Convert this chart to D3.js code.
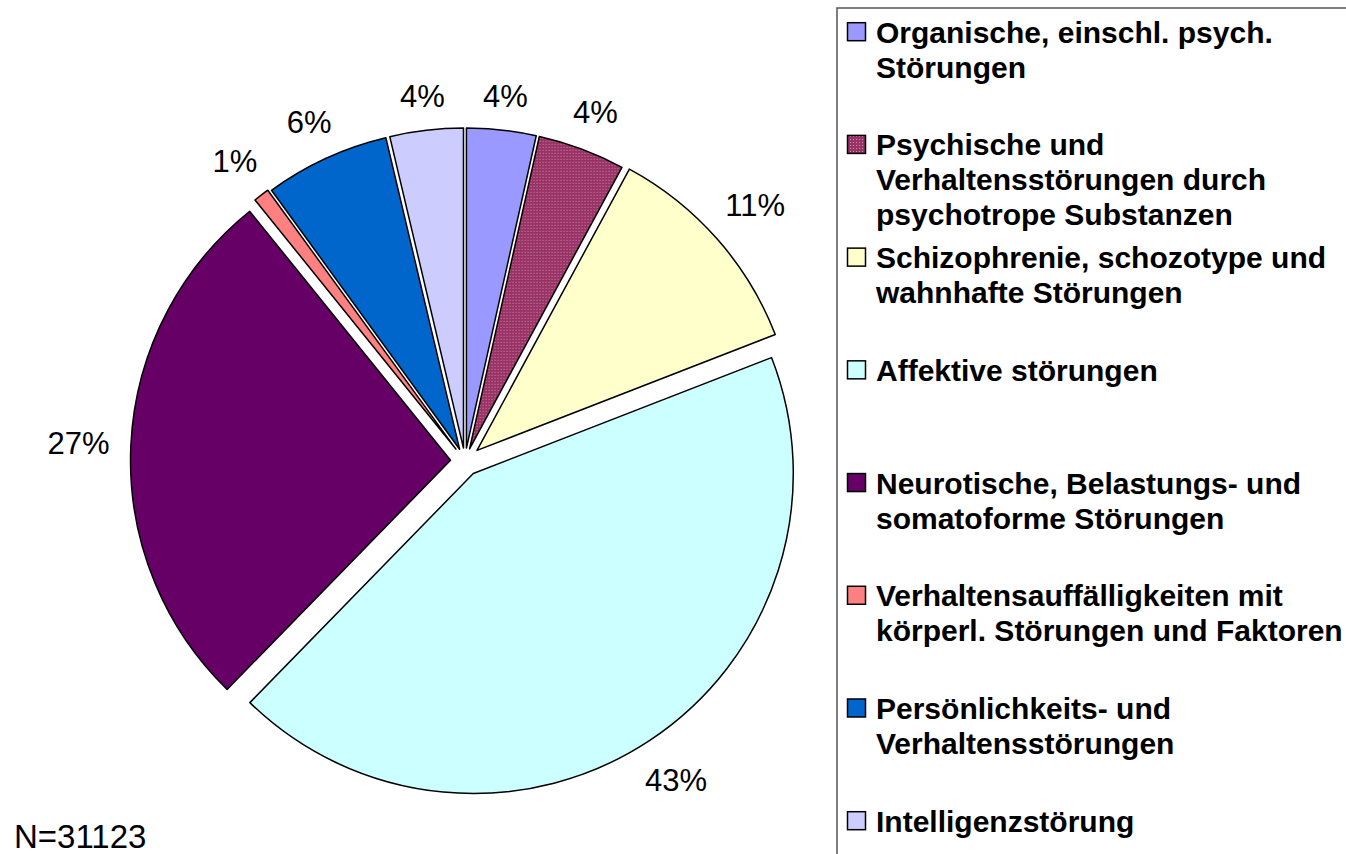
<!DOCTYPE html>
<html>
<head>
<meta charset="utf-8">
<script src="https://cdn.jsdelivr.net/npm/d3@7"></script>
<style>
  html, body { margin: 0; padding: 0; background: #fff; }
  svg { display: block; }
  text { font-family: "Liberation Sans", Arial, Helvetica, sans-serif; }
</style>
</head>
<body>
<svg id="chart" width="1346" height="854"></svg>
<script>
// ---- data ----
const categoryLines = [
  ["Organische, einschl. psych.", "Störungen"],
  ["Psychische und", "Verhaltensstörungen durch", "psychotrope Substanzen"],
  ["Schizophrenie, schozotype und", "wahnhafte Störungen"],
  ["Affektive störungen"],
  ["Neurotische, Belastungs- und", "somatoforme Störungen"],
  ["Verhaltensauffälligkeiten mit", "körperl. Störungen und Faktoren"],
  ["Persönlichkeits- und", "Verhaltensstörungen"],
  ["Intelligenzstörung"]
];
const categories = categoryLines.map(l => l.join(" "));
// shares in percent
const values = [3.5, 4.4, 11.2, 43.2, 26.9, 0.8, 6.3, 3.7];
const valueLabels = ["4%", "4%", "11%", "43%", "27%", "1%", "6%", "4%"];
const note = "N=31123";

// ---- styles ----
const colors = ["#9999FF", "url(#dots)", "#FFFFCC", "#CCFFFF", "#660066", "#FF8080", "#0066CC", "#CCCCFF"];
const explode = [13, 13, 16, 15, 14.5, 15, 13, 13];

const svg = d3.select("#chart");
const cx = 465, cy = 461, R = 320;

// pattern for the dotted slice
const defs = svg.append("defs");
const pat = defs.append("pattern").attr("id", "dots")
  .attr("patternUnits", "userSpaceOnUse").attr("width", 3).attr("height", 3);
pat.append("rect").attr("width", 3).attr("height", 3).attr("fill", "#993366");
pat.append("rect").attr("x", 1).attr("y", 1).attr("width", 1).attr("height", 1).attr("fill", "#D08AAE");

const pie = d3.pie().sort(null).value(d => d)(values);
const arc = d3.arc().innerRadius(0).outerRadius(R);

const g = svg.append("g").attr("transform", `translate(${cx},${cy})`);
g.selectAll("path.slice").data(pie).join("path")
  .attr("class", "slice")
  .attr("d", arc)
  .attr("transform", (d, i) => {
    const a = (d.startAngle + d.endAngle) / 2;
    return `translate(${explode[i] * Math.sin(a)},${-explode[i] * Math.cos(a)})`;
  })
  .attr("fill", (d, i) => colors[i])
  .attr("stroke", "#000")
  .attr("stroke-width", 1.5)
  .attr("stroke-linejoin", "round");

// percentage labels
const labelSize = 31;
const capH = labelSize * 0.72;
const gap = 21;
g.selectAll("text.pct").data(pie).join("text")
  .attr("class", "pct")
  .attr("font-size", labelSize)
  .attr("text-anchor", "middle")
  .attr("fill", "#000")
  .text((d, i) => valueLabels[i])
  .each(function (d, i) {
    const w = this.getComputedTextLength();
    const a = (d.startAngle + d.endAngle) / 2;
    const dist = R + explode[i] + gap + Math.abs(Math.sin(a)) * w / 2 + Math.abs(Math.cos(a)) * capH / 2;
    d3.select(this)
      .attr("x", dist * Math.sin(a))
      .attr("y", -dist * Math.cos(a) + capH / 2);
  });

// N label
svg.append("text").attr("x", 14).attr("y", 848)
  .attr("font-size", 33).attr("fill", "#000").text(note);

// legend
const legendX = 837, legendTop = 8;
svg.append("path")
  .attr("d", `M${1346 + 2},${legendTop} H${legendX} V${854 + 2}`)
  .attr("fill", "none").attr("stroke", "#555").attr("stroke-width", 1.5);

const ly = d3.scalePoint().domain(categories).range([42.7, 831.7]);
const lg = svg.append("g");
const items = lg.selectAll("g.item").data(categories).join("g").attr("class", "item");
items.append("rect")
  .attr("x", 847.5).attr("y", d => ly(d) - 20)
  .attr("width", 18).attr("height", 18)
  .attr("fill", (d, i) => colors[i])
  .attr("stroke", "#000").attr("stroke-width", 1.5);
items.append("text")
  .attr("font-size", 30).attr("font-weight", "bold").attr("fill", "#000")
  .attr("x", 876).attr("y", d => ly(d))
  .selectAll("tspan").data((d, i) => categoryLines[i]).join("tspan")
  .attr("x", 876).attr("dy", (d, j) => j === 0 ? 0 : 35)
  .text(d => d);
</script>
</body>
</html>
